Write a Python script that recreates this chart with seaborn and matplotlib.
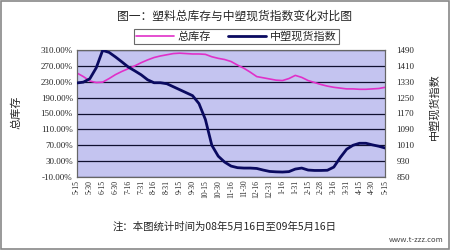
import matplotlib
matplotlib.use("Agg")
import matplotlib.pyplot as plt
import seaborn as sns
import numpy as np
import pandas as pd
from matplotlib.patches import Rectangle
from matplotlib.lines import Line2D

sns.set_style("white")
plt.rcParams['font.family'] = ['Noto Sans CJK SC', 'DejaVu Sans']

title = "图一：塑料总库存与中塑现货指数变化对比图"
series_names = ["总库存", "中塑现货指数"]
note = "注：本图统计时间为08年5月16日至09年5月16日"
site = "www.t-zzz.com"

tick_labels = ["5-15", "5-30", "6-15", "6-30", "7-16", "7-31", "8-16", "8-31",
               "9-15", "9-30", "10-15", "10-30", "11-16", "11-30", "12-16", "12-31",
               "1-16", "1-31", "2-15", "2-28", "3-16", "3-31", "4-15", "4-30", "5-15"]

# position in label units (half-month steps)
pos = [i * 0.5 for i in range(49)]

inventory = [252, 243, 232, 228, 229, 238, 248, 256, 263, 270, 278, 285, 291, 295,
             298, 301, 302, 301, 300, 300, 299, 293, 289, 286, 281, 272, 264, 254,
             243, 240, 237, 234, 233, 238, 246, 241, 233, 228, 223, 219, 216, 214,
             212, 212, 211, 211, 212, 213, 216]

index = [1324, 1328, 1345, 1400, 1488, 1478, 1455, 1430, 1404, 1385, 1365, 1340,
         1325, 1325, 1320, 1305, 1290, 1275, 1260, 1220, 1140, 1010, 955, 925, 905,
         897, 895, 895, 893, 885, 878, 876, 875, 877, 890, 895, 885, 883, 883, 884,
         900, 948, 990, 1010, 1020, 1020, 1012, 1005, 996]

left_ticks = [-10, 30, 70, 110, 150, 190, 230, 270, 310]
right_ticks = [850, 930, 1010, 1090, 1170, 1250, 1330, 1410, 1490]

df = pd.DataFrame({"pos": pos, "inv": inventory, "idx": index})

fig = plt.figure(figsize=(4.5, 2.5), dpi=100)
fig.patch.set_facecolor("white")
fig.patches.append(Rectangle((0.003, 0.004), 0.994, 0.992, transform=fig.transFigure,
                             fill=False, edgecolor="#888888", linewidth=1.2))

ax = fig.add_axes([0.171, 0.292, 0.685, 0.508])
ax.set_facecolor("#C4C4F0")
ax2 = ax.twinx()

pink = "#E030C8"
navy = "#0A0A60"

sns.lineplot(data=df, x="pos", y="inv", ax=ax, color=pink, linewidth=1.2, zorder=3)
sns.lineplot(data=df, x="pos", y="idx", ax=ax2, color=navy, linewidth=2.0, zorder=4)

ax.set_xlim(0, 24)
ax.set_ylim(-10, 310)
ax2.set_ylim(850, 1490)

ax.set_yticks(left_ticks)
ax.set_yticklabels([f"{v:.2f}%" for v in left_ticks], fontsize=6.5, family=['Liberation Serif'])
ax2.set_yticks(right_ticks)
ax2.set_yticklabels([str(v) for v in right_ticks], fontsize=6.5, family=['Liberation Serif'])
ax.set_xticks(range(len(tick_labels)))
ax.set_xticklabels(tick_labels, rotation=90, fontsize=5.5, family=['Liberation Serif'])

ax.grid(axis="y", color="#101030", linewidth=0.9)
ax.grid(axis="x", visible=False)
ax2.grid(False)
ax.tick_params(axis="y", length=0, pad=3)
ax2.tick_params(axis="y", length=0, pad=8)
ax.tick_params(axis="x", direction="in", length=3, width=0.8, color="#333333", pad=2)

for a in (ax, ax2):
    for s in a.spines.values():
        s.set_color("#666666")
        s.set_linewidth(0.8)
    a.set_xlabel("")
    a.set_ylabel("")

fig.text(0.035, 0.55, series_names[0], rotation=90, fontsize=8, ha="center", va="center")
fig.text(0.965, 0.575, series_names[1], rotation=90, fontsize=8, ha="center", va="center")

fig.text(0.52, 0.937, title, fontsize=8.5, ha="center", va="center")

handles = [Line2D([0], [0], color=pink, linewidth=1.2),
           Line2D([0], [0], color=navy, linewidth=2.0)]
leg = fig.legend(handles, series_names, loc="center", bbox_to_anchor=(0.525, 0.855),
                 ncol=2, fontsize=8, frameon=True, fancybox=False, edgecolor="#444444",
                 borderpad=0.2, handlelength=3.4, handletextpad=0.3, columnspacing=1.6)
leg.get_frame().set_linewidth(0.8)

fig.text(0.5, 0.095, note, fontsize=7.5, ha="center", va="center")
fig.text(0.985, 0.04, site, fontsize=5.5, ha="right", va="center", color="#444444")

fig.savefig("out.png", dpi=100)
